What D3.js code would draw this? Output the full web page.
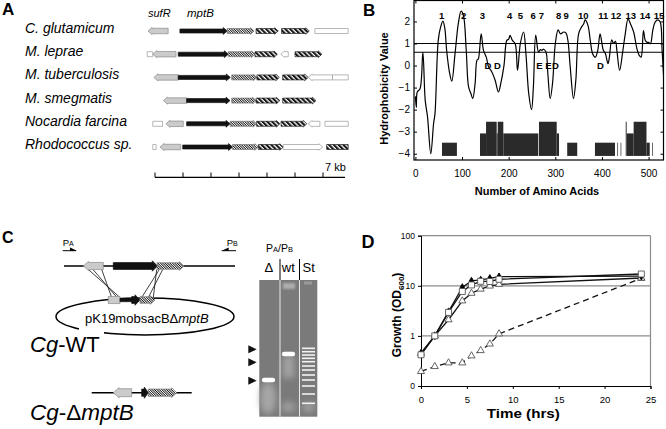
<!DOCTYPE html>
<html>
<head>
<meta charset="utf-8">
<title>mptB figure</title>
<style>
  body { margin: 0; background: #fff; }
  svg { display: block; font-family: "Liberation Sans", Arial, Helvetica, sans-serif; }
</style>
</head>
<body>
<svg width="666" height="429"></svg>
<script src="https://cdn.jsdelivr.net/npm/d3@7"></script>
<script>
// ---------- panel A : gene neighbourhoods, positions in kb ----------
var species = ["C. glutamicum", "M. leprae", "M. tuberculosis", "M. smegmatis", "Nocardia farcina", "Rhodococcus sp."];
// [start kb, end kb, direction (L/R/N), kind]
var genesCglu = [[-0.25,0.47,"L","gray"],[0.89,2.58,"R","black"],[2.58,3.54,"R","fine"],[3.61,4.40,"R","bold"],[4.52,5.51,"R","bold"],[5.71,6.9,"N","white"]];
var genesMlep = [[-0.28,-0.08,"N","white"],[-0.08,0.75,"L","gray"],[0.83,2.62,"R","black"],[2.62,3.57,"R","fine"],[3.57,4.37,"R","bold"],[4.49,4.76,"L","white"],[5.0,5.96,"R","bold"]];
var genesMtub = [[-0.04,0.83,"L","gray"],[0.83,2.69,"R","black"],[2.74,3.64,"R","fine"],[3.64,4.44,"R","bold"],[4.56,5.47,"R","bold"],[5.47,6.34,"L","white"],[6.34,6.9,"N","white"]];
var genesMsmeg = [[0.30,1.13,"L","gray"],[1.13,2.68,"R","black"],[2.74,3.61,"R","fine"],[3.61,4.46,"R","bold"],[4.56,5.75,"R","bold"]];
var genesNfar = [[-0.08,0.27,"N","white"],[0.39,1.01,"L","gray"],[1.13,2.68,"R","black"],[2.68,3.63,"R","fine"],[3.63,4.46,"R","bold"],[4.50,5.42,"R","bold"],[5.47,5.89,"L","white"],[6.07,6.9,"N","white"]];
var genesRhod = [[-0.08,0.04,"N","white"],[0.18,0.92,"L","gray"],[0.99,2.77,"R","black"],[2.77,3.69,"R","fine"],[3.69,4.58,"R","bold"],[4.58,5.99,"R","white"],[6.13,6.9,"N","bold"]];
var geneMaps = [genesCglu, genesMlep, genesMtub, genesMsmeg, genesNfar, genesRhod];
var kbTicks = [0, 1, 2, 3, 4, 5, 6];

// ---------- panel B : hydropathy plot ----------
var aaPos = [0,2,4,10,16,21,26,33,39,42,49,54,59,63,67,73,78,85,92,98,103,109,114,119,123,128,132,135,141,146,152,157,164,171,178,183,190,196,200,203,208,214,219,225,232,237,243,249,253,258,264,268,271,275,280,284,289,294,300,306,311,318,323,327,332,339,344,350,356,361,364,370,375,380,386,391,396,400,403,407,413,416,421,425,429,432,438,444,450,456,461,468,475,480,484,489,493,497,500,504,509,514,520,525,529,532];
var hydro = [-1.4,-1.9,-1.2,-1.05,0.6,-1.57,-2.33,-4.0,-2.63,-2.18,1.14,1.74,2.01,1.7,0.69,-0.3,-0.71,0.54,1.9,2.47,2.27,0.69,-0.97,-1.27,-1.5,-0.82,0.24,0.3,1.44,0.69,0.38,-0.07,-0.29,-0.67,-1.2,-0.82,0.01,1.14,1.2,1.37,1.14,0.99,-0.22,0.99,1.52,0.54,-1.27,-2.0,-0.97,1.38,0.61,0.72,0.69,0.74,0.61,-0.37,-1.5,-0.82,0.99,1.62,1.44,1.52,1.47,1.14,-0.07,-1.5,-0.67,1.44,1.74,1.9,2.07,1.82,1.14,0.54,0.38,0.69,1.44,1.0,0.69,0.57,0.09,0.38,1.17,1.0,1.1,0.69,-0.22,0.54,1.44,2.12,1.9,1.52,0.76,0.46,0.38,1.59,1.14,1.05,1.05,0.99,1.59,1.97,2.07,1.97,0.69,-0.4];
var thresholds = [1.0, 0.6];
// predicted segments: [start aa, end aa, top value]
var tmBlocks = [[57,89,-3.5],[138.5,151.5,-3.08],[151.5,174.3,-2.55],[174.3,176.5,-3.08],[176.5,188.5,-2.55],[188.5,263.5,-3.08],[265,303,-2.55],[303,308,-3.08],[325.5,347,-3.5],[385,428,-3.5],[433,434.5,-3.5],[440,441.5,-3.5],[451,453,-2.55],[453,468,-3.08],[468,495.5,-2.55],[495.5,502.5,-3.5],[507.5,509,-3.5]];
var helixLabels = ["1","2","3","4","5","6","7","8","9","10","11","12","13","14","15"];
var helixPos = [56.5,103.6,143.5,202,225,252.7,270,307,323,360,402.6,430,462,492.5,522.5];
var residueLabels = ["D","D","E","E","D","D"];
var residuePos = [155.6,175.8,266,285.4,300.4,397];
var xTicksB = [0,100,200,300,400,500];
var yTicksB = [-4,-3,-2,-1,0,1,2];

// ---------- panel C : construct and gel ----------
// positions along the drawing, units from the left end of the chromosome line
var chromGenes = [[19.3,39.3,"L","gray"],[49.3,93.5,"R","black"],[93,120,"R","fine"]];
var plasmidGenes = [[44.3,56,"N","gray"],[56,68,"N","thin"],[67.7,76,"R","black"],[76,91,"R","fine"]];
var deltaGenes = [[49.3,67.7,"L","gray"],[77.7,84.3,"R","black"],[84.3,112.7,"R","fine"]];
var crossLines = [[24.3,56],[29,53],[37.7,47.7],[92.7,89.3],[95.3,77.7],[98.7,84.3]];
var gelLanes = ["\u0394", "wt", "St"];
var deltaBand = 100, wtBand = 74;           // migration from gel top
var ladderBands = [68.3,71.7,75,78.3,81.7,86,90,95,100,106,114,123.3];
var markerArrows = [69.3, 82.3, 100.7];

// ---------- panel D : growth curves ----------
var timeHrs = [0,1.5,3,4.5,5.5,6.5,7.5,8.5,24];
var growthFilled = [0.45,1.0,3.05,9.3,12.5,13.1,14.1,15.2,15.6];
var growthSquare = [0.42,1.0,2.95,7.7,10.4,12.3,12.2,13.5,17.2];
var growthTriangle = [0.45,1.0,2.1,5.0,7.1,8.6,9.9,10.7,14.3];
var growthMutant = [0.195,0.245,0.29,0.29,0.4,0.51,0.69,1.1,14.1];
var xTicksD = [0,5,10,15,20,25];
var yTicksD = [0.1,1,10,100];
var yTickLabelsD = ["0","1","10","100"];

var svg = d3.select("svg");
var defs = svg.append("defs");

function hatch(id, w, dark) {
  var p = defs.append("pattern").attr("id", id)
    .attr("patternUnits", "userSpaceOnUse")
    .attr("width", w).attr("height", 6)
    .attr("patternTransform", "rotate(-45)");
  p.append("rect").attr("width", w).attr("height", 6).attr("fill", "#fff");
  p.append("rect").attr("width", dark).attr("height", 6).attr("fill", "#151515");
}
hatch("hatchFine", 1.7, 0.85);
hatch("hatchBold", 3.4, 2.1);

function blur(id, s) {
  defs.append("filter").attr("id", id).attr("x", "-50%").attr("y", "-50%").attr("width", "200%").attr("height", "200%")
    .append("feGaussianBlur").attr("stdDeviation", s);
}
blur("b05", 0.5); blur("b1", 1); blur("b3", 3);

defs.append("clipPath").attr("id", "clipB")
  .append("rect").attr("x", 414).attr("y", 0.5).attr("width", 249.5).attr("height", 159.5);

var geneStyle = {
  gray:  {fill: "#cbcbcb", stroke: "#8a8a8a", h: 5.5, tip: 4, flare: 0.8},
  black: {fill: "#111",    stroke: "#111",    h: 4,   tip: 4, flare: 1.4},
  white: {fill: "#fff",    stroke: "#9a9a9a", h: 5,   tip: 4, flare: 0.8},
  fine:  {fill: "url(#hatchFine)", stroke: "#777", h: 5, tip: 3.5, flare: 0.8},
  bold:  {fill: "url(#hatchBold)", stroke: "#222", h: 5, tip: 3.5, flare: 0.8},
  thin:  {fill: "#111",    stroke: "#111",    h: 2.6, tip: 0, flare: 0}
};

function arrowPath(x0, x1, y, dir, h, tip, flare) {
  var t = Math.min(tip, (x1 - x0) * 0.6), a = h / 2, b = h / 2 + flare;
  if (dir === "R") return "M" + x0 + "," + (y - a) + "H" + (x1 - t) + "V" + (y - b) + "L" + x1 + "," + y +
    "L" + (x1 - t) + "," + (y + b) + "V" + (y + a) + "H" + x0 + "Z";
  if (dir === "L") return "M" + x1 + "," + (y - a) + "H" + (x0 + t) + "V" + (y - b) + "L" + x0 + "," + y +
    "L" + (x0 + t) + "," + (y + b) + "V" + (y + a) + "H" + x1 + "Z";
  return "M" + x0 + "," + (y - a) + "H" + x1 + "V" + (y + a) + "H" + x0 + "Z";
}

// blackScale lets the C construct use a heavier mptB bar
function drawGenes(g, list, x, y, scaleH, blackScale) {
  g.selectAll(null).data(list).enter().append("path")
    .attr("d", function(d) {
      var s = geneStyle[d[3]], k = (d[3] === "black" && blackScale) ? blackScale : scaleH;
      return arrowPath(x(d[0]), x(d[1]), y, d[2], s.h * k, s.tip * scaleH, s.flare * scaleH);
    })
    .attr("fill", function(d) { return geneStyle[d[3]].fill; })
    .attr("stroke", function(d) { return geneStyle[d[3]].stroke; })
    .attr("stroke-width", 0.7);
}

function panelLetter(t, x, y, size) {
  svg.append("text").attr("x", x).attr("y", y).attr("font-size", size)
    .attr("font-weight", "bold").text(t);
}

// ================= A =================
var gA = svg.append("g");
var xKb = d3.scaleLinear().domain([0, 7]).range([155, 351]);
var yRow = d3.scalePoint().domain(species).range([31, 147]);
panelLetter("A", 2, 15, 17);

gA.selectAll(".sp").data(species).enter().append("text")
  .attr("x", 25).attr("y", function(d) { return yRow(d) + 2; })
  .attr("font-size", 14).attr("font-style", "italic").text(function(d) { return d; });

gA.append("text").attr("x", 148).attr("y", 16.5).attr("font-size", 11).attr("font-style", "italic").text("sufR");
gA.append("text").attr("x", 187).attr("y", 16.5).attr("font-size", 11.5).attr("font-style", "italic").text("mptB");

var gGenes = gA.append("g");
species.forEach(function(sp, i) { drawGenes(gGenes, geneMaps[i], xKb, yRow(sp), 1); });

gA.append("line").attr("x1", xKb(0)).attr("x2", 345).attr("y1", 177.3).attr("y2", 177.3)
  .attr("stroke", "#000").attr("stroke-width", 1.2);
gA.selectAll(".kb").data(kbTicks).enter().append("line")
  .attr("x1", function(d) { return xKb(d); }).attr("x2", function(d) { return xKb(d); })
  .attr("y1", 177.3).attr("y2", 172.5).attr("stroke", "#000").attr("stroke-width", 1);
gA.append("text").attr("x", 325).attr("y", 170.5).attr("font-size", 11).text("7 kb");

// ================= B =================
var gB = svg.append("g");
var xB = d3.scaleLinear().domain([-3, 532]).range([414, 663.5]);
var yB = d3.scaleLinear().domain([-4.285, 2.95]).range([160, 0.5]);
panelLetter("B", 363, 15.5, 17);

gB.selectAll(".tm").data(tmBlocks).enter().append("rect")
  .attr("x", function(d) { return xB(d[0]); })
  .attr("width", function(d) { return xB(d[1]) - xB(d[0]); })
  .attr("y", function(d) { return yB(d[2]); })
  .attr("height", function(d) { return yB(-4.1) - yB(d[2]); })
  .attr("fill", "#2a2a2a");

gB.selectAll(".thr").data(thresholds).enter().append("line")
  .attr("x1", 414).attr("x2", 663.5)
  .attr("y1", function(d) { return yB(d); }).attr("y2", function(d) { return yB(d); })
  .attr("stroke", "#000").attr("stroke-width", 1.1);

var hydroLine = d3.line()
  .x(function(d, i) { return xB(aaPos[i]); })
  .y(function(d) { return yB(d); })
  .curve(d3.curveCatmullRom.alpha(0.5));
gB.append("path").datum(hydro).attr("clip-path", "url(#clipB)")
  .attr("fill", "none").attr("stroke", "#000").attr("stroke-width", 1.2).attr("d", hydroLine);

gB.append("rect").attr("x", 414).attr("y", 0.5).attr("width", 249.5).attr("height", 159.5)
  .attr("fill", "none").attr("stroke", "#000").attr("stroke-width", 1.2);

function styleAxis(g, size) {
  g.select(".domain").remove();
  g.selectAll("text").attr("font-size", size).attr("font-family", null).attr("fill", "#000");
  g.selectAll("line").attr("stroke", "#000");
}
gB.append("g").attr("transform", "translate(414,0)")
  .call(d3.axisLeft(yB).tickValues(yTicksB).tickSize(-3).tickPadding(4)).call(styleAxis, 10);
gB.append("g").attr("transform", "translate(663.5,0)")
  .call(d3.axisRight(yB).tickValues(yTicksB).tickSize(-3).tickFormat("")).call(styleAxis, 10);
gB.append("g").attr("transform", "translate(0,160)")
  .call(d3.axisBottom(xB).tickValues(xTicksB).tickSize(-3).tickPadding(10)).call(styleAxis, 10);
gB.append("g").attr("transform", "translate(0,0.5)")
  .call(d3.axisTop(xB).tickValues(xTicksB).tickSize(-3).tickFormat("")).call(styleAxis, 10);

gB.selectAll(".hx").data(helixLabels).enter().append("text")
  .attr("x", function(d, i) { return xB(helixPos[i]); }).attr("y", 19.3)
  .attr("text-anchor", "middle").attr("font-size", 9.5).attr("font-weight", "bold").text(function(d) { return d; });
gB.selectAll(".res").data(residueLabels).enter().append("text")
  .attr("x", function(d, i) { return xB(residuePos[i]); }).attr("y", yB(0) + 3.5)
  .attr("text-anchor", "middle").attr("font-size", 9.5).attr("font-weight", "bold").text(function(d) { return d; });

gB.append("text").attr("transform", "translate(388,88.5) rotate(-90)").attr("text-anchor", "middle")
  .attr("font-size", 11).attr("font-weight", "bold").text("Hydrophobicity Value");
gB.append("text").attr("x", 537).attr("y", 195).attr("text-anchor", "middle")
  .attr("font-size", 11).attr("font-weight", "bold").text("Number of Amino Acids");

// ================= C =================
var gC = svg.append("g");
var xC = d3.scaleLinear().domain([0, 171]).range([64, 235]);
panelLetter("C", 2, 243, 16);

function primerLabel(x, sub) {
  var t = gC.append("text").attr("x", x).attr("y", 245.5).attr("font-size", 9.5);
  t.append("tspan").text("P");
  t.append("tspan").attr("font-size", 7).text(sub);
}
primerLabel(62.7, "A");
primerLabel(226.7, "B");
gC.append("line").attr("x1", 62.7).attr("x2", 76).attr("y1", 250.7).attr("y2", 250.7).attr("stroke", "#000").attr("stroke-width", 1);
gC.append("path").attr("d", "M70,247.6L77,250.7L70,250.7Z").attr("fill", "#000");
gC.append("line").attr("x1", 221.7).attr("x2", 236).attr("y1", 250.7).attr("y2", 250.7).attr("stroke", "#000").attr("stroke-width", 1);
gC.append("path").attr("d", "M228.7,247.6L221.7,250.7L228.7,250.7Z").attr("fill", "#000");

gC.selectAll(".cross").data(crossLines).enter().append("line")
  .attr("x1", function(d) { return xC(d[0]); }).attr("y1", 269.5)
  .attr("x2", function(d) { return xC(d[1]); }).attr("y2", 297.5)
  .attr("stroke", "#111").attr("stroke-width", 0.8);

gC.append("line").attr("x1", xC(0)).attr("x2", xC(171)).attr("y1", 266).attr("y2", 266)
  .attr("stroke", "#000").attr("stroke-width", 1.5);
drawGenes(gC, chromGenes, xC, 266, 1.3, 1.7);

gC.append("ellipse").attr("cx", 145).attr("cy", 316.5).attr("rx", 89).attr("ry", 18.5)
  .attr("fill", "none").attr("stroke", "#000").attr("stroke-width", 1.5);
gC.append("rect").attr("x", 79).attr("y", 326).attr("width", 25).attr("height", 10).attr("fill", "#fff");
drawGenes(gC, plasmidGenes, xC, 300, 1.3, 1.7);

var plas = gC.append("text").attr("x", 85).attr("y", 323).attr("font-size", 13);
plas.append("tspan").text("pK19mobsacB\u0394");
plas.append("tspan").attr("font-style", "italic").text("mptB");

var wt = gC.append("text").attr("x", 30).attr("y", 351.5).attr("font-size", 22);
wt.append("tspan").attr("font-style", "italic").text("Cg");
wt.append("tspan").text("-WT");

gC.append("line").attr("x1", xC(27.7)).attr("x2", xC(127.7)).attr("y1", 392.7).attr("y2", 392.7)
  .attr("stroke", "#000").attr("stroke-width", 1.5);
drawGenes(gC, deltaGenes, xC, 392.7, 1.45, 1.8);

var dl = gC.append("text").attr("x", 30).attr("y", 420).attr("font-size", 22.5);
dl.append("tspan").attr("font-style", "italic").text("Cg");
dl.append("tspan").text("-\u0394");
dl.append("tspan").attr("font-style", "italic").text("mptB");

// gel
var gelTop = 280, gelBottom = 416.7, gelLeft = 259.3, gelRight = 317.3;
var laneX = d3.scaleBand().domain(gelLanes).range([gelLeft, gelRight]).padding(0);
var yGel = d3.scaleLinear().domain([0, 136.7]).range([gelTop, gelBottom]);

var pab = gC.append("text").attr("x", 266).attr("y", 251.5).attr("font-size", 10.5);
pab.append("tspan").text("P");
pab.append("tspan").attr("font-size", 7.5).text("A");
pab.append("tspan").text("/P");
pab.append("tspan").attr("font-size", 7.5).text("B");

gC.selectAll(".lane").data(gelLanes).enter().append("text")
  .attr("x", function(d) { return laneX(d) + laneX.bandwidth() / 2 + (d === "St" ? 1 : 0); })
  .attr("y", 271.5).attr("text-anchor", "middle").attr("font-size", 13).text(function(d) { return d; });

gC.append("rect").attr("x", gelLeft).attr("y", gelTop).attr("width", gelRight - gelLeft).attr("height", gelBottom - gelTop)
  .attr("fill", "#7a7a7a");
// glows and smears
gC.append("ellipse").attr("cx", 268).attr("cy", yGel(118)).attr("rx", 8).attr("ry", 16).attr("fill", "#a6a6a6").attr("filter", "url(#b3)");
gC.append("ellipse").attr("cx", 288.5).attr("cy", yGel(127)).attr("rx", 7).attr("ry", 5).attr("fill", "#a0a0a0").attr("filter", "url(#b3)");
gC.append("ellipse").attr("cx", 308.5).attr("cy", yGel(127)).attr("rx", 6).attr("ry", 5).attr("fill", "#a0a0a0").attr("filter", "url(#b3)");
gC.append("rect").attr("x", 283).attr("y", yGel(wtBand + 2)).attr("width", 11).attr("height", 22).attr("fill", "#a2a2a2").attr("filter", "url(#b3)");
gC.append("rect").attr("x", 283).attr("y", yGel(3)).attr("width", 12).attr("height", 6).attr("fill", "#adadad").attr("filter", "url(#b1)");
gC.append("rect").attr("x", 304).attr("y", yGel(1.5)).attr("width", 8).attr("height", 3).attr("fill", "#9a9a9a").attr("filter", "url(#b05)");
// bands
gC.append("rect").attr("x", 262).attr("y", yGel(deltaBand) - 2.2).attr("width", 13).attr("height", 4.4).attr("rx", 2)
  .attr("fill", "#fff").attr("filter", "url(#b05)");
gC.append("rect").attr("x", 282).attr("y", yGel(wtBand) - 2.2).attr("width", 13).attr("height", 4.4).attr("rx", 2)
  .attr("fill", "#fff").attr("filter", "url(#b05)");
gC.selectAll(".ladder").data(ladderBands).enter().append("rect")
  .attr("x", 302).attr("width", 13).attr("y", function(d) { return yGel(d) - 0.8; }).attr("height", 1.6)
  .attr("fill", "#f2f2f2").attr("filter", "url(#b05)");
// lane separators
[280, 299.5].forEach(function(x) {
  gC.append("line").attr("x1", x).attr("x2", x).attr("y1", gelTop).attr("y2", gelBottom).attr("stroke", "#e8e8e8").attr("stroke-width", 1);
  gC.append("line").attr("x1", x).attr("x2", x).attr("y1", 259).attr("y2", gelTop).attr("stroke", "#000").attr("stroke-width", 1);
});
gC.selectAll(".mk").data(markerArrows).enter().append("path")
  .attr("d", function(d) { var y = yGel(d); return "M248.3," + (y - 4) + "L256.7," + y + "L248.3," + (y + 4) + "Z"; })
  .attr("fill", "#111");

// ================= D =================
var gD = svg.append("g");
var xD = d3.scaleLinear().domain([0, 25]).range([421, 650.5]);
var yD = d3.scaleLog().domain([0.1, 100]).range([386, 235.7]);
panelLetter("D", 361.5, 248, 18);

gD.selectAll(".grid").data([1, 10, 100]).enter().append("line")
  .attr("x1", 421).attr("x2", 650.5)
  .attr("y1", function(d) { return yD(d); }).attr("y2", function(d) { return yD(d); })
  .attr("stroke", "#8c8c8c").attr("stroke-width", 1.3);
gD.append("line").attr("x1", 650.5).attr("x2", 650.5).attr("y1", yD(100)).attr("y2", 386)
  .attr("stroke", "#8c8c8c").attr("stroke-width", 1.2);

function styleAxisD(g, size) {
  g.select(".domain").attr("stroke", "#000").attr("stroke-width", 1);
  g.selectAll("line").attr("stroke", "#000");
  g.selectAll("text").attr("font-size", size).attr("font-family", null).attr("fill", "#000");
}
gD.append("g").attr("transform", "translate(421,0)")
  .call(d3.axisLeft(yD).tickValues(yTicksD).tickFormat(function(d, i) { return yTickLabelsD[i]; }).tickSizeOuter(0).tickSize(3).tickPadding(3))
  .call(styleAxisD, 8.5);
gD.append("g").attr("transform", "translate(0,386)")
  .call(d3.axisBottom(xD).tickValues(xTicksD).tickSizeOuter(0).tickSize(3).tickPadding(7.5))
  .call(styleAxisD, 9.5);

var growthLine = d3.line()
  .x(function(d, i) { return xD(timeHrs[i]); })
  .y(function(d) { return yD(d); });

var series = [
  {v: growthMutant, dash: "6,4", sym: d3.symbolTriangle, size: 22, fill: "#fff"},
  {v: growthTriangle, dash: null, sym: d3.symbolTriangle, size: 22, fill: "#fff"},
  {v: growthFilled, dash: null, sym: d3.symbolDiamond, size: 16, fill: "#000"},
  {v: growthSquare, dash: null, sym: d3.symbolSquare, size: 36, fill: "#fff"}
];
series.forEach(function(s) {
  gD.append("path").datum(s.v).attr("fill", "none").attr("stroke", "#111")
    .attr("stroke-width", 1.3).attr("stroke-dasharray", s.dash).attr("d", growthLine);
});
series.forEach(function(s) {
  gD.selectAll(null).data(s.v).enter().append("path")
    .attr("transform", function(d, i) { return "translate(" + xD(timeHrs[i]) + "," + yD(d) + ")"; })
    .attr("d", d3.symbol().type(s.sym).size(s.size))
    .attr("fill", s.fill).attr("stroke", s.fill === "#000" ? "#000" : "#555").attr("stroke-width", 0.9);
});

var gl = gD.append("text").attr("transform", "translate(401,315) rotate(-90)").attr("text-anchor", "middle")
  .attr("font-size", 12).attr("font-weight", "bold");
gl.append("tspan").text("Growth (OD");
gl.append("tspan").attr("font-size", 8).attr("dy", 3).text("600");
gl.append("tspan").attr("dy", -3).text(")");
gD.append("text").attr("x", 523.3).attr("y", 418.3).attr("text-anchor", "middle")
  .attr("font-size", 12.5).attr("font-weight", "bold")
  .attr("textLength", 73).attr("lengthAdjust", "spacingAndGlyphs").text("Time (hrs)");
</script>
</body>
</html>
